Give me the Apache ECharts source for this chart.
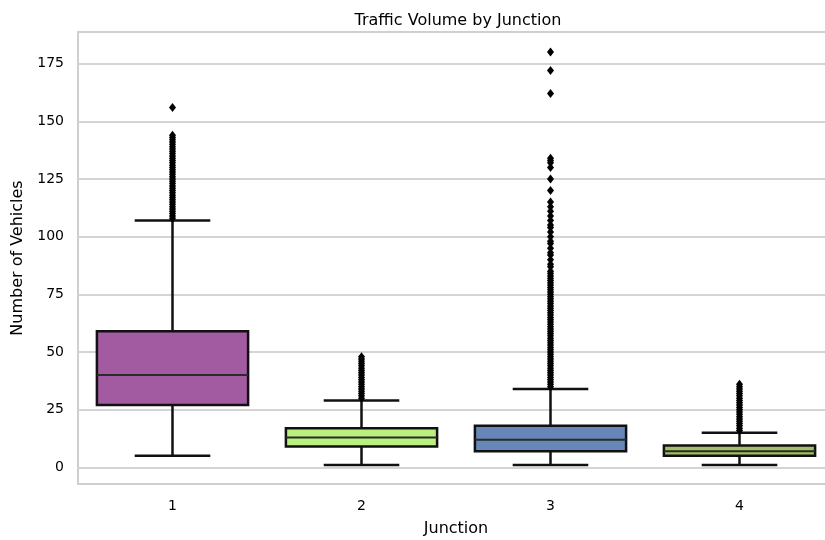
<!DOCTYPE html>
<html><head><meta charset="utf-8">
<script src="https://cdn.jsdelivr.net/npm/echarts@6/dist/echarts.min.js"></script>
<style>html,body{margin:0;padding:0;background:#fff}#c{width:825px;height:540px}</style>
</head><body><div id="c"></div>
<script>
const junctions = ['1', '2', '3', '4'];
const lowerWhisker = [5, 1, 1, 1];
const q1 = [27, 9, 7, 5];
const median = [40, 13, 12, 7];
const q3 = [59, 17, 18, 9.5];
const upperWhisker = [107, 29, 34, 15];
const outliers1 = [108,109,110,111,112,113,114,115,116,117,118,119,120,121,122,123,124,125,126,127,128,129,130,131,132,133,134,135,136,137,138,139,140,141,142,143,144,156];
const outliers2 = [30,31,32,33,34,35,36,37,38,39,40,41,42,43,44,45,46,47,48];
const outliers3 = [35,36,37,38,39,40,41,42,43,44,45,46,47,48,49,50,51,52,53,54,55,56,57,58,59,60,61,62,63,64,65,66,67,68,69,70,71,72,73,74,75,76,77,78,79,80,81,82,83,84,85,87,88,90,92,93,95,97,98,100,102,104,105,107,109,111,113,115,120,125,130,132,133,134,162,172,180];
const outliers4 = [16,17,18,19,20,21,22,23,24,25,26,27,28,29,30,31,32,33,34,35,36];
const yTicks = [0, 25, 50, 75, 100, 125, 150, 175];
const boxColors = ['#a25aa0', '#b9f07f', '#6787b8', '#a3bf66'];

const boxData = junctions.map((j, i) => [i, lowerWhisker[i], q1[i], median[i], q3[i], upperWhisker[i]]);
const outlierData = [];
[outliers1, outliers2, outliers3, outliers4].forEach((arr, i) => arr.forEach(v => outlierData.push([i, v])));

const chart = echarts.init(document.getElementById('c'));
const font = '"DejaVu Sans", sans-serif';
chart.setOption({
  animation: false,
  backgroundColor: '#fff',
  title: {
    text: 'Traffic Volume by Junction', left: 453, top: 8, textAlign: 'center',
    textStyle: { fontSize: 16, fontWeight: 'normal', color: '#000', fontFamily: font }
  },
  grid: { left: 78, top: 32, width: 756, height: 452, outerBoundsMode: 'none', containLabel: false,
          show: true, borderColor: '#cfcfcf', borderWidth: 2, backgroundColor: 'transparent' },
  xAxis: {
    type: 'category', data: junctions, boundaryGap: true,
    name: 'Junction', nameLocation: 'middle', nameGap: 37,
    nameTextStyle: { fontSize: 16, color: '#000', fontFamily: font },
    axisLine: { show: false }, axisTick: { show: false },
    axisLabel: { fontSize: 14, color: '#000', margin: 15, fontFamily: font },
    splitLine: { show: false }
  },
  yAxis: {
    type: 'value', min: -7.2, max: 188.7,
    name: 'Number of Vehicles', nameLocation: 'middle', nameGap: 52,
    nameTextStyle: { fontSize: 16, color: '#000', fontFamily: font },
    axisLine: { show: false },
    axisTick: { show: false, customValues: yTicks },
    axisLabel: { customValues: yTicks, fontSize: 14, color: '#000', margin: 14, fontFamily: font },
    splitLine: { show: true, lineStyle: { color: '#d4d4d4', width: 2 } }
  },
  series: [
    {
      type: 'custom',
      data: boxData,
      encode: { x: 0, y: [1, 2, 3, 4, 5] },
      z: 2,
      renderItem: function (params, api) {
        const i = api.value(0);
        const band = api.size([1, 0])[0];
        const bw = band * 0.8;
        const cw = band * 0.4;
        const pLow = api.coord([i, api.value(1)]);
        const pQ1 = api.coord([i, api.value(2)]);
        const pMed = api.coord([i, api.value(3)]);
        const pQ3 = api.coord([i, api.value(4)]);
        const pUp = api.coord([i, api.value(5)]);
        const cx = pMed[0];
        const ls = { stroke: '#111', lineWidth: 2.5 };
        return {
          type: 'group',
          children: [
            { type: 'line', shape: { x1: cx, y1: pQ3[1], x2: cx, y2: pUp[1] }, style: ls },
            { type: 'line', shape: { x1: cx, y1: pQ1[1], x2: cx, y2: pLow[1] }, style: ls },
            { type: 'line', shape: { x1: cx - cw / 2, y1: pUp[1], x2: cx + cw / 2, y2: pUp[1] }, style: ls },
            { type: 'line', shape: { x1: cx - cw / 2, y1: pLow[1], x2: cx + cw / 2, y2: pLow[1] }, style: ls },
            { type: 'rect', shape: { x: cx - bw / 2, y: pQ3[1], width: bw, height: pQ1[1] - pQ3[1] },
              style: { fill: boxColors[i], stroke: '#111', lineWidth: 2.5 } },
            { type: 'line', shape: { x1: cx - bw / 2, y1: pMed[1], x2: cx + bw / 2, y2: pMed[1] },
              style: { stroke: '#2a2a2a', lineWidth: 2 } }
          ]
        };
      }
    },
    {
      type: 'scatter',
      data: outlierData,
      symbol: 'diamond',
      symbolSize: [7, 9],
      itemStyle: { color: '#000', opacity: 1 },
      z: 3
    }
  ]
});
</script></body></html>
